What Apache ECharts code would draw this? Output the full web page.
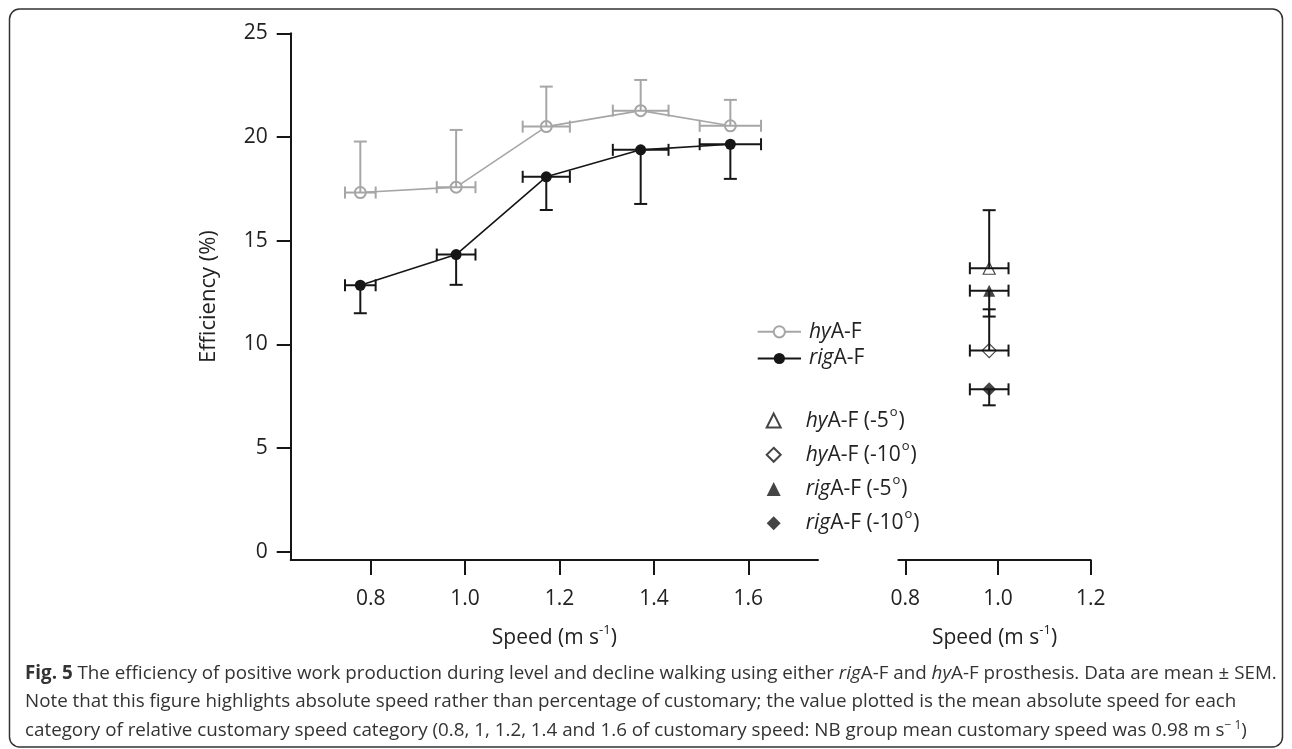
<!DOCTYPE html>
<html>
<head>
<meta charset="utf-8">
<script src="https://cdn.jsdelivr.net/npm/echarts@6/dist/echarts.min.js"></script>
<style>
html,body{margin:0;padding:0;background:#fff;}
#chart{width:1292px;height:749px;}
</style>
</head>
<body>
<div id="chart"></div>
<script>
// ---- data ----
const levelSpeed = [0.778, 0.981, 1.172, 1.372, 1.562];
const levelSpeedSem = [0.0325, 0.041, 0.050, 0.059, 0.065];
const hyEff = [17.32, 17.58, 20.50, 21.27, 20.54];
const hyEffSem = [2.46, 2.76, 1.93, 1.48, 1.25];
const rigEff = [12.85, 14.33, 18.08, 19.38, 19.65];
const rigEffSem = [1.35, 1.46, 1.60, 2.61, 1.67];

const declineNames = ['hyA-F (-5°)', 'hyA-F (-10°)', 'rigA-F (-5°)', 'rigA-F (-10°)'];
const declineSpeed = [0.981, 0.981, 0.981, 0.981];
const declineSpeedSem = [0.0417, 0.0417, 0.0417, 0.0417];
const declineEff = [13.67, 9.70, 12.59, 7.83];
const declineEffSem = [2.80, 1.99, 1.25, 0.77];

const yTicks = [0, 5, 10, 15, 20, 25];
const xTicksLevel = [0.8, 1.0, 1.2, 1.4, 1.6];
const xTicksDecline = [0.8, 1.0, 1.2];

// ---- styling ----
const GRAY = '#a6a6a6';
const BLACK = '#161616';
const FONT = 'Open Sans';
const TXT = '#222';

function errRender(color) {
  return function (params, api) {
    const x = api.value(0), y = api.value(1), xe = api.value(2), up = api.value(3), dn = api.value(4);
    const l = api.coord([x - xe, y]);
    const r = api.coord([x + xe, y]);
    const t = api.coord([x, y + up]);
    const b = api.coord([x, y - dn]);
    const st = { stroke: color, lineWidth: 2 };
    const ch = [
      { type: 'line', shape: { x1: l[0], y1: l[1], x2: r[0], y2: r[1] }, style: st },
      { type: 'line', shape: { x1: l[0], y1: l[1] - 6, x2: l[0], y2: l[1] + 6 }, style: st },
      { type: 'line', shape: { x1: r[0], y1: r[1] - 6, x2: r[0], y2: r[1] + 6 }, style: st },
      { type: 'line', shape: { x1: t[0], y1: t[1], x2: b[0], y2: b[1] }, style: st }
    ];
    if (up > 0) ch.push({ type: 'line', shape: { x1: t[0] - 6.5, y1: t[1], x2: t[0] + 6.5, y2: t[1] }, style: st });
    if (dn > 0) ch.push({ type: 'line', shape: { x1: b[0] - 6.5, y1: b[1], x2: b[0] + 6.5, y2: b[1] }, style: st });
    return { type: 'group', children: ch };
  };
}

const hyErrData = levelSpeed.map((s, i) => [s, hyEff[i], levelSpeedSem[i], hyEffSem[i], 0]);
const rigErrData = levelSpeed.map((s, i) => [s, rigEff[i], levelSpeedSem[i], 0, rigEffSem[i]]);
const declineErrHy = [0, 1].map(i => [declineSpeed[i], declineEff[i], declineSpeedSem[i], declineEffSem[i], 0]);
const declineErrRig = [2, 3].map(i => [declineSpeed[i], declineEff[i], declineSpeedSem[i], 0, declineEffSem[i]]);

const richBase = {
  i: { fontStyle: 'italic', fontSize: 21, fontFamily: FONT, color: TXT, lineHeight: 20 },
  n: { fontSize: 21, fontFamily: FONT, color: TXT, lineHeight: 20 },
  sup: { fontSize: 13, fontFamily: FONT, color: TXT, lineHeight: 20, verticalAlign: 'middle', padding: [0, 1, 17, 1] }
};

function legendFmt(name) {
  const m = name.match(/^(hy|rig)(A-F)(.*)$/);
  if (!m) return name;
  const rest = m[3];
  let out = '{i|' + m[1] + '}{n|' + m[2];
  if (rest) {
    const mm = rest.match(/^ \((-\d+)°\)$/);
    out += ' (' + mm[1] + '}{sup|o}{n|)}';
  } else {
    out += '}';
  }
  return out;
}

const xAxisCommon = {
  type: 'value',
  axisLine: { show: true, onZero: false, lineStyle: { color: BLACK, width: 2 } },
  axisTick: { show: true, inside: false, length: 15, lineStyle: { color: BLACK, width: 2 } },
  axisLabel: { fontSize: 21, fontFamily: FONT, color: TXT, margin: 29, formatter: v => v.toFixed(1) },
  splitLine: { show: false },
  nameLocation: 'middle',
  nameGap: 64,
  nameTextStyle: { fontSize: 21, fontFamily: FONT, color: TXT, rich: { sup: { fontSize: 13, fontFamily: FONT, color: TXT, padding: [0, 0, 15, 0] } } }
};

const option = {
  backgroundColor: '#fff',
  animation: false,
  grid: [
    { left: 290.7, top: 33.3, width: 527.3, height: 526.7 },
    { left: 898.3, top: 33.3, width: 192.4, height: 526.7 }
  ],
  xAxis: [
    Object.assign({}, xAxisCommon, {
      gridIndex: 0, min: 0.6305, max: 1.7477,
      name: 'Speed (m s{sup|-1})',
      axisTick: Object.assign({}, xAxisCommon.axisTick, { customValues: xTicksLevel }),
      axisLabel: Object.assign({}, xAxisCommon.axisLabel, { customValues: xTicksLevel })
    }),
    Object.assign({}, xAxisCommon, {
      gridIndex: 1, min: 0.7849, max: 1.2,
      name: 'Speed (m s{sup|-1})',
      axisTick: Object.assign({}, xAxisCommon.axisTick, { customValues: xTicksDecline }),
      axisLabel: Object.assign({}, xAxisCommon.axisLabel, { customValues: xTicksDecline })
    })
  ],
  yAxis: [
    {
      type: 'value', gridIndex: 0, min: -0.4, max: 25,
      axisLine: { show: true, onZero: false, lineStyle: { color: BLACK, width: 2 } },
      axisTick: { show: true, length: 14, customValues: yTicks, lineStyle: { color: BLACK, width: 2 } },
      axisLabel: { fontSize: 21, fontFamily: FONT, color: TXT, margin: 23, customValues: yTicks },
      splitLine: { show: false },
      name: 'Efficiency (%)',
      nameLocation: 'middle',
      nameGap: 71,
      nameTextStyle: { fontSize: 22, fontFamily: FONT, color: TXT }
    },
    { type: 'value', gridIndex: 1, min: -0.4, max: 25, show: false }
  ],
  legend: [
    {
      data: ['hyA-F', 'rigA-F'],
      orient: 'vertical',
      left: 751.7, top: 316.3,
      itemWidth: 43.3, itemHeight: 14, itemGap: 5.7,
      formatter: legendFmt,
      textStyle: { fontSize: 21, fontFamily: FONT, lineHeight: 20, padding: [0, 0, 0, 3], rich: richBase },
      selectedMode: false
    },
    {
      data: declineNames,
      orient: 'vertical',
      left: 760.7, top: 400.6,
      itemWidth: 14, itemHeight: 14, itemGap: 4.2,
      formatter: legendFmt,
      textStyle: { fontSize: 21, fontFamily: FONT, lineHeight: 20, padding: [0, 0, 0, 20], rich: richBase },
      selectedMode: false
    }
  ],
  series: [
    {
      name: 'hyA-F', type: 'line', xAxisIndex: 0, yAxisIndex: 0,
      data: levelSpeed.map((s, i) => [s, hyEff[i]]),
      symbol: 'emptyCircle', symbolSize: 11,
      lineStyle: { color: GRAY, width: 1.6 },
      itemStyle: { color: GRAY, borderColor: GRAY, borderWidth: 1.2 },
      z: 2
    },
    {
      name: 'hyErr', type: 'custom', xAxisIndex: 0, yAxisIndex: 0,
      renderItem: errRender(GRAY), data: hyErrData, clip: false, z: 3,
      encode: { x: 0, y: 1 }
    },
    {
      name: 'rigA-F', type: 'line', xAxisIndex: 0, yAxisIndex: 0,
      data: levelSpeed.map((s, i) => [s, rigEff[i]]),
      symbol: 'circle', symbolSize: 11,
      lineStyle: { color: BLACK, width: 1.6 },
      itemStyle: { color: BLACK },
      z: 4
    },
    {
      name: 'rigErr', type: 'custom', xAxisIndex: 0, yAxisIndex: 0,
      renderItem: errRender(BLACK), data: rigErrData, clip: false, z: 4,
      encode: { x: 0, y: 1 }
    },
    {
      name: declineNames[0], type: 'scatter', xAxisIndex: 1, yAxisIndex: 1,
      data: [[declineSpeed[0], declineEff[0]]],
      symbol: 'triangle', symbolSize: 12,
      itemStyle: { color: '#fff', borderColor: BLACK, borderWidth: 1.2 }, z: 2
    },
    {
      name: declineNames[1], type: 'scatter', xAxisIndex: 1, yAxisIndex: 1,
      data: [[declineSpeed[1], declineEff[1]]],
      symbol: 'diamond', symbolSize: 14,
      itemStyle: { color: '#fff', borderColor: BLACK, borderWidth: 1.2 }, z: 2
    },
    {
      name: declineNames[2], type: 'scatter', xAxisIndex: 1, yAxisIndex: 1,
      data: [[declineSpeed[2], declineEff[2]]],
      symbol: 'triangle', symbolSize: 12,
      itemStyle: { color: BLACK }, z: 5
    },
    {
      name: declineNames[3], type: 'scatter', xAxisIndex: 1, yAxisIndex: 1,
      data: [[declineSpeed[3], declineEff[3]]],
      symbol: 'diamond', symbolSize: 14,
      itemStyle: { color: BLACK }, z: 5
    },
    {
      name: 'declineErrHy', type: 'custom', xAxisIndex: 1, yAxisIndex: 1,
      renderItem: errRender(BLACK), data: declineErrHy, clip: false, z: 3,
      encode: { x: 0, y: 1 }
    },
    {
      name: 'declineErrRig', type: 'custom', xAxisIndex: 1, yAxisIndex: 1,
      renderItem: errRender(BLACK), data: declineErrRig, clip: false, z: 3,
      encode: { x: 0, y: 1 }
    }
  ],
  graphic: [
    {
      type: 'rect', silent: true,
      shape: { x: 9.5, y: 9, width: 1273, height: 738, r: 10 },
      style: { fill: 'none', stroke: '#333', lineWidth: 1.5 }
    },
    {
      type: 'text', left: 25, top: 664,
      style: {
        text: '{b|Fig. 5} The efficiency of positive work production during level and decline walking using either {i|rig}A-F and {i|hy}A-F prosthesis. Data are mean ± SEM.',
        font: '18.8px "Open Sans"', fill: '#333',
        rich: { b: { fontWeight: 'bold', fontSize: 18.8, fontFamily: FONT, fill: '#333' }, i: { fontStyle: 'italic', fontSize: 18.8, fontFamily: FONT, fill: '#333' } }
      }
    },
    {
      type: 'text', left: 25, top: 692,
      style: {
        text: 'Note that this figure highlights absolute speed rather than percentage of customary; the value plotted is the mean absolute speed for each',
        font: '18.8px "Open Sans"', fill: '#333'
      }
    },
    {
      type: 'text', left: 25, top: 720,
      style: {
        text: 'category of relative customary speed category (0.8, 1, 1.2, 1.4 and 1.6 of customary speed: NB group mean customary speed was 0.98 m s{sup|− 1})',
        font: '18.8px "Open Sans"', fill: '#333',
        rich: { sup: { fontSize: 12, fontFamily: FONT, fill: '#333', padding: [0, 0, 9, 0] } }
      }
    }
  ]
};

const chart = echarts.init(document.getElementById('chart'), null, { renderer: 'canvas' });
chart.setOption(option);
</script>
</body>
</html>
